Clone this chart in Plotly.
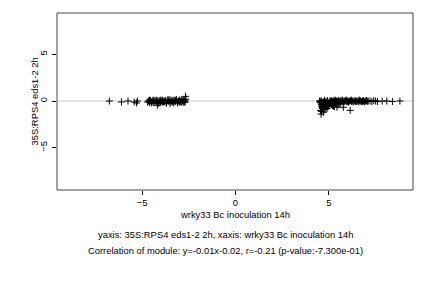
import plotly.graph_objects as go

# Left cluster (x, y)
left_x = [-6.75, -6.1, -5.75, -5.42, -5.3, -5.25,
          -4.7, -4.65, -4.6, -4.55, -4.5, -4.45, -4.4, -4.35, -4.3, -4.25, -4.2, -4.18,
          -4.15, -4.1, -4.05, -4.0, -3.95, -3.9, -3.85, -3.8, -3.75, -3.7, -3.65, -3.6,
          -3.55, -3.5, -3.45, -3.4, -3.35, -3.3, -3.25, -3.2, -3.15, -3.1, -3.05, -3.0,
          -2.95, -2.9, -2.85, -2.8, -2.75, -2.7, -2.67, -2.65,
          -4.6, -4.4, -4.2, -4.0, -3.8, -3.6, -3.4, -3.2, -3.0, -2.8, -2.7,
          -4.5, -4.1, -3.7, -3.3, -2.9, -3.5, -3.9, -3.1, -2.75]
left_y = [0.0, -0.1, 0.0, -0.1, -0.2, 0.0,
          -0.1, 0.0, -0.15, 0.05, -0.1, 0.0, -0.2, 0.05, -0.05, 0.1, -0.1, -0.45,
          0.0, -0.1, 0.05, -0.15, 0.0, 0.1, -0.1, 0.0, 0.05, -0.2, 0.1, -0.05,
          0.0, 0.15, -0.1, 0.05, -0.15, 0.1, 0.0, -0.05, 0.15, -0.1, 0.0, 0.1,
          -0.05, 0.15, 0.0, -0.1, 0.1, 0.0, 0.5, 0.2,
          0.1, 0.1, 0.05, 0.1, -0.05, 0.15, 0.0, 0.1, -0.1, 0.05, -0.1,
          -0.2, -0.25, -0.2, -0.2, -0.15, -0.25, -0.1, -0.2, -0.15]

# Right cluster (x, y)
right_x = [4.5, 4.55, 4.6, 4.62, 4.65, 4.7, 4.72, 4.75, 4.8, 4.82, 4.85, 4.9, 4.95, 5.0,
           4.55, 4.6, 4.65, 4.7, 4.75, 4.8, 4.85, 4.9, 4.95, 5.0, 5.05,
           4.58, 4.64, 4.68, 4.74, 4.78, 4.88, 4.98, 5.1, 4.62, 4.7, 4.8, 4.6,
           5.05, 5.1, 5.15, 5.2, 5.25, 5.3, 5.35, 5.4, 5.45, 5.5, 5.55, 5.6, 5.65, 5.7,
           5.75, 5.8, 5.85, 5.9, 5.95, 6.0, 6.05, 6.1, 6.15, 6.2, 6.25, 6.3, 6.35, 6.4,
           6.45, 6.5, 6.55, 6.6, 6.65, 6.7, 6.75, 6.8, 6.85, 6.9, 6.95, 7.0, 7.05, 7.1,
           7.2, 7.3, 7.4, 7.5, 7.6, 7.85, 8.1, 8.4, 8.8,
           5.2, 5.3, 5.43, 5.5, 5.77, 5.6, 6.14, 5.35, 5.15, 5.25,
           4.52, 4.58, 4.66, 4.76, 4.84, 4.92, 5.02, 5.12, 5.22, 5.32, 5.42, 5.52,
           5.62, 5.72, 5.82, 5.92, 6.02, 6.22, 6.42, 6.62, 6.82, 7.02]
right_y = [0.0, -0.2, -0.4, -0.6, -0.8, -0.3, -0.9, -0.5, -0.2, -0.7, -0.4, -0.1, -0.3, -0.2,
           -1.0, -1.1, -0.7, -1.2, -0.6, -0.9, -0.5, -0.8, -0.6, -0.4, -0.3,
           -1.4, -0.5, -0.3, -0.2, -0.15, -0.5, -0.45, -0.15, -0.35, -0.1, -0.3, -0.1,
           0.0, -0.1, 0.0, -0.05, 0.0, -0.1, 0.05, 0.0, -0.05, 0.0, -0.1, 0.0, 0.05, -0.05,
           0.0, -0.1, 0.0, 0.05, -0.05, 0.0, -0.1, 0.0, 0.05, -0.05, 0.0, -0.1, 0.0, 0.05,
           -0.05, 0.0, 0.0, -0.1, 0.05, 0.0, -0.05, 0.0, 0.05, -0.1, 0.0, 0.05, -0.05, 0.0,
           0.0, -0.05, 0.05, 0.0, -0.05, 0.0, 0.0, -0.05, 0.0,
           -0.5, -0.6, -0.65, -0.4, -0.67, -0.3, -1.0, -0.3, -0.4, -0.55,
           -0.1, 0.05, -0.15, 0.1, -0.05, 0.05, -0.1, 0.05, -0.15, 0.1, -0.1, 0.05,
           -0.1, 0.1, -0.05, 0.1, -0.1, 0.1, -0.05, 0.1, -0.05, 0.05]

x_ticks = [-5, 0, 5]
y_ticks = [-5, 0, 5]

x_title = "wrky33 Bc inoculation 14h"
y_title = "35S:RPS4 eds1-2 2h"
line1 = "yaxis: 35S:RPS4 eds1-2 2h, xaxis: wrky33 Bc inoculation 14h"
line2 = "Correlation of module: y=-0.01x-0.02, r=-0.21 (p-value:-7.300e-01)"

FONT = "Liberation Sans, Arial, sans-serif"
FS = 9.4

fig = go.Figure()
fig.add_trace(go.Scatter(
    x=left_x + right_x, y=left_y + right_y, mode="markers",
    marker=dict(symbol="cross-thin", size=5, color="black",
                line=dict(color="black", width=1)),
    showlegend=False, cliponaxis=False))

fig.add_shape(type="line", xref="paper", yref="y", x0=0, x1=1, y0=0, y1=0,
              line=dict(color="#cccccc", width=1), layer="below")
# box
fig.add_shape(type="rect", xref="paper", yref="paper", x0=0, x1=1, y0=0, y1=1,
              line=dict(color="#444444", width=1))

fig.update_xaxes(range=[-9.55, 9.5], tickvals=x_ticks, ticks="outside", ticklen=4,
                 tickcolor="black", showgrid=False, zeroline=False, showline=False,
                 tickfont=dict(family=FONT, size=FS, color="black"))
fig.update_yaxes(range=[-9.5, 9.4], tickvals=y_ticks, ticks="outside", ticklen=4,
                 tickcolor="black", showgrid=False, zeroline=False, showline=False,
                 tickangle=-90, ticklabelstandoff=1,
                 tickfont=dict(family=FONT, size=FS, color="black"))

fig.add_annotation(text=y_title, xref="paper", yref="paper", x=-0.062, y=0.5,
                   textangle=-90, showarrow=False, xanchor="center", yanchor="middle",
                   font=dict(family=FONT, size=FS, color="black"))
fig.add_annotation(text=x_title, xref="paper", yref="paper", x=0.5, y=-0.141,
                   showarrow=False, yanchor="middle",
                   font=dict(family=FONT, size=FS, color="black"))
fig.add_annotation(text=line1, xref="paper", yref="paper", x=0.473, y=-0.254,
                   showarrow=False, yanchor="middle",
                   font=dict(family=FONT, size=FS, color="black"))
fig.add_annotation(text=line2, xref="paper", yref="paper", x=0.473, y=-0.339,
                   showarrow=False, yanchor="middle",
                   font=dict(family=FONT, size=FS, color="black"))

fig.update_layout(width=432, height=288, plot_bgcolor="white", paper_bgcolor="white",
                  margin=dict(l=57, r=19, t=13, b=98))
fig.write_html("out.html")
